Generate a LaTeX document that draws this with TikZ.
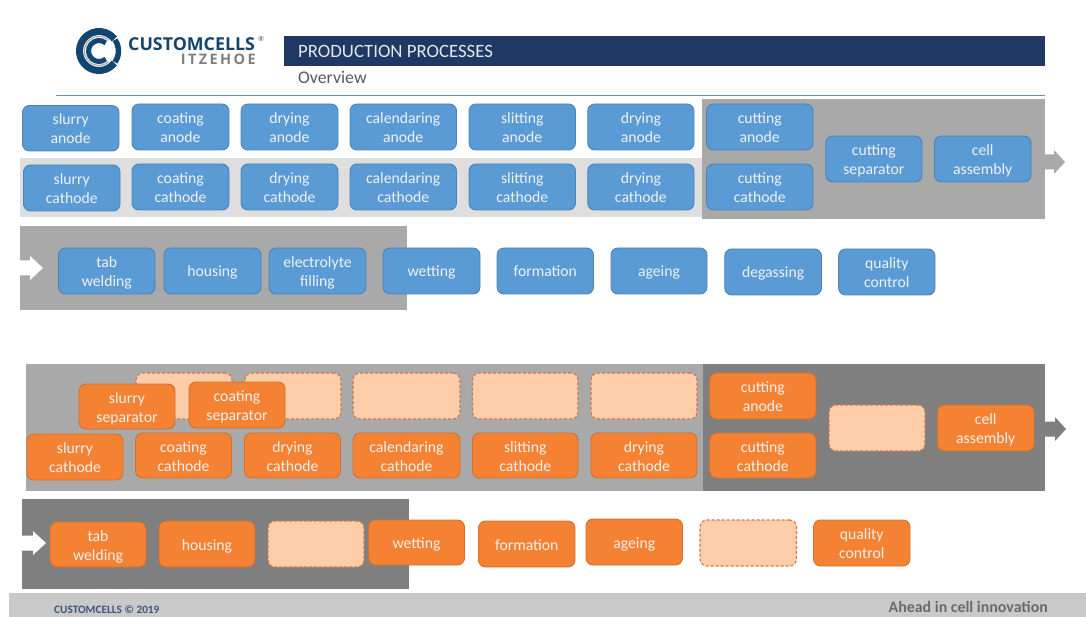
\documentclass[tikz,border=0pt]{standalone}
\usepackage{fontspec}
\setmainfont{Carlito}
\newfontfamily\logofont{Open Sans}
\definecolor{blueF}{HTML}{5B9BD5}
\definecolor{blueD}{HTML}{4C84B8}
\definecolor{orangeF}{HTML}{F58233}
\definecolor{orangeD}{HTML}{D0712F}
\definecolor{peachF}{HTML}{FDCDAA}
\definecolor{peachD}{HTML}{C9794A}
\definecolor{navy}{HTML}{1F3864}
\definecolor{logoblue}{HTML}{12466F}
\definecolor{greyA}{HTML}{A9A9A9}
\definecolor{greyB}{HTML}{7F7F7F}
\definecolor{greyC}{HTML}{DEDEDE}
\definecolor{greyF}{HTML}{C9C9C9}
\definecolor{rulecol}{HTML}{6A8DB5}
\tikzset{
  procbox/.style={rounded corners=7pt,inner sep=0pt,line width=0.9pt},
  proctext/.style={inner sep=0pt,align=center,text=white!94!black,
    font=\fontsize{15.7}{19}\selectfont,yshift=-2.2pt},
  bluebox/.style={procbox,fill=blueF,draw=blueD},
  orangebox/.style={procbox,fill=orangeF,draw=orangeD},
  emptybox/.style={procbox,fill=peachF,draw=peachD,line width=1.1pt,dash pattern=on 3pt off 2pt},
}
\newcommand{\bx}[7]{\node[#6,minimum width={(#4-#2)*1pt},minimum height={(#5-#3)*1pt},
  label={[proctext]center:{\strut #7\strut}}]
  (#1) at ({(#2+#4)/2},{(#3+#5)/2}) {};}
\newcommand{\ex}[5]{\node[emptybox,minimum width={(#4-#2)*1pt},minimum height={(#5-#3)*1pt}]
  (#1) at ({(#2+#4)/2},{(#3+#5)/2}) {};}
\newcommand{\blockarrow}[5]{% x0, xend, ymid, colour, head length
  \fill[#4] (#1,#3-7.5) -- (#2-#5,#3-7.5) -- (#2-#5,#3-12) -- (#2,#3) -- (#2-#5,#3+12) -- (#2-#5,#3+7.5) -- (#1,#3+7.5) -- cycle;}
\begin{document}
\begin{tikzpicture}[x=1pt,y=-1pt]
\useasboundingbox (0,0) rectangle (1086,617);
% logo
\begin{scope}[shift={(99,51)}]
  \draw[logoblue,line width=7pt] (38:19.5) arc[start angle=-38,end angle=-322,radius=19.5,y radius=-19.5];
  \draw[logoblue,line width=5.5pt] (35:19.5) arc[start angle=-35,end angle=35,radius=19.5,y radius=-19.5];
  \draw[greyA,line width=1.2pt] (-48:14.5) arc[start angle=48,end angle=312,radius=14.5,y radius=-14.5];
  \draw[logoblue,line width=5pt] (-50:10.5) arc[start angle=50,end angle=310,radius=10.5,y radius=-10.5];
\end{scope}
\node[inner sep=0pt,anchor=west,text=logoblue,font=\logofont\bfseries\fontsize{17.8}{18}\selectfont,text height=12.8pt,text depth=0pt] (brand) at (128,44.5) {CUSTOMCELLS};
\node[inner sep=0pt,anchor=west,text=greyB,font=\logofont\bfseries\fontsize{7}{7}\selectfont] (reg) at (258,39) {\textregistered};
\node[inner sep=0pt,anchor=east,text=greyB,font=\logofont\bfseries\fontsize{14.5}{14.5}\selectfont,text height=10.4pt,text depth=0pt] (site) at (256,59.8) {I\,T\,Z\,E\,H\,O\,E};
% header
\fill[navy] (284,36.5) rectangle (1045,66);
\node[inner sep=0pt,anchor=west,text=white!88!navy,font=\fontsize{18.8}{19}\selectfont] (title) at (298,51.5) {PRODUCTION PROCESSES};
\node[inner sep=0pt,anchor=west,text=black!65,font=\fontsize{17.8}{18}\selectfont] (sub) at (298,77) {Overview};
\draw[color=rulecol,line width=0.9pt] (56,95.5) -- (1045,95.5);
% upper bands
\fill[greyC] (20,158) rectangle (702,217.5);
\fill[greyA] (702,99.5) rectangle (1045,219);
\fill[greyA] (20,226) rectangle (407,310);
\blockarrow{1045}{1065}{162}{greyA}{11}
\blockarrow{20}{43}{268}{white}{13}
% upper boxes
\bx{a1}{22.5}{105.5}{119}{151}{bluebox}{slurry\\anode}
\bx{a2}{132}{104}{229}{150}{bluebox}{coating\\anode}
\bx{a3}{241}{104}{338}{150}{bluebox}{drying\\anode}
\bx{a4}{350}{104}{456.5}{150}{bluebox}{calendaring\\anode}
\bx{a5}{469}{104}{575.5}{150}{bluebox}{slitting\\anode}
\bx{a6}{587.7}{104}{694}{150}{bluebox}{drying\\anode}
\bx{a7}{706.5}{104}{813}{150}{bluebox}{cutting\\anode}
\bx{c1}{23.5}{165}{120}{211}{bluebox}{slurry\\cathode}
\bx{c2}{132}{164}{229}{210}{bluebox}{coating\\cathode}
\bx{c3}{241}{164}{338}{210}{bluebox}{drying\\cathode}
\bx{c4}{350}{164}{456.5}{210}{bluebox}{calendaring\\cathode}
\bx{c5}{469}{164}{575.5}{210}{bluebox}{slitting\\cathode}
\bx{c6}{587.7}{164}{694}{210}{bluebox}{drying\\cathode}
\bx{c7}{706.5}{164}{813}{210}{bluebox}{cutting\\cathode}
\bx{s1}{825.7}{136}{922}{182}{bluebox}{cutting\\separator}
\bx{s2}{934.4}{136}{1031}{182}{bluebox}{cell\\assembly}
\bx{t1}{58.5}{248}{155}{294}{bluebox}{tab\\welding}
\bx{t2}{164}{248}{261}{294}{bluebox}{housing}
\bx{t3}{269}{248}{366}{294}{bluebox}{electrolyte\\filling}
\bx{t4}{383}{248}{480}{294}{bluebox}{wetting}
\bx{t5}{497}{248}{593.5}{294}{bluebox}{formation}
\bx{t6}{611}{248}{707}{294}{bluebox}{ageing}
\bx{t7}{724.7}{249}{821.5}{295}{bluebox}{degassing}
\bx{t8}{838.6}{249}{935}{295}{bluebox}{quality\\control}
% lower bands
\fill[greyA] (26,363.5) rectangle (702.5,490.5);
\fill[greyB] (702.5,363.5) rectangle (1045,490.5);
\fill[greyB] (22,499) rectangle (409,589);
\blockarrow{1045}{1066}{429}{greyB}{11}
\blockarrow{22}{46}{543}{white}{13}
% lower boxes
\ex{e1}{136}{373}{232}{419}
\ex{e2}{245}{373}{341}{419}
\ex{e3}{353}{373}{460}{419}
\ex{e4}{472.5}{373}{578}{419}
\ex{e5}{591}{373}{697}{419}
\bx{p1}{79}{384}{175}{429}{orangebox}{slurry\\separator}
\bx{p2}{189}{382}{285}{428}{orangebox}{coating\\separator}
\bx{d1}{27}{434}{123}{480}{orangebox}{slurry\\cathode}
\bx{d2}{135.5}{433}{231.5}{478}{orangebox}{coating\\cathode}
\bx{d3}{244.5}{433}{340.5}{478}{orangebox}{drying\\cathode}
\bx{d4}{353}{433}{460}{478}{orangebox}{calendaring\\cathode}
\bx{d5}{472.5}{433}{578}{478}{orangebox}{slitting\\cathode}
\bx{d6}{591}{433}{697}{478}{orangebox}{drying\\cathode}
\bx{d7}{709.7}{373}{816}{419}{orangebox}{cutting\\anode}
\bx{d8}{709.7}{433}{816}{478}{orangebox}{cutting\\cathode}
\ex{e6}{829}{405}{925}{451}
\bx{d9}{937.5}{405}{1034}{451}{orangebox}{cell\\assembly}
\bx{w1}{50}{522}{146}{567}{orangebox}{tab\\welding}
\bx{w2}{159}{521}{255}{567}{orangebox}{housing}
\ex{e7}{268}{521}{364}{567}
\bx{w3}{368.5}{520}{464.5}{565}{orangebox}{wetting}
\bx{w4}{478.5}{521}{575}{567}{orangebox}{formation}
\bx{w5}{586}{519}{682.5}{565}{orangebox}{ageing}
\ex{e8}{700}{520}{796.5}{566}
\bx{w6}{813.5}{520}{910}{566}{orangebox}{quality\\control}
% footer
\fill[greyF] (9,593) rectangle (1086,617);
\node[inner sep=0pt,anchor=west,text=navy!85,font=\bfseries\fontsize{11.3}{11.3}\selectfont] (copy) at (54,610) {CUSTOMCELLS © 2019};
\node[inner sep=0pt,anchor=east,text=black!58,font=\bfseries\fontsize{15.9}{16}\selectfont] (slogan) at (1048,607) {Ahead in cell innovation};
\end{tikzpicture}
\end{document}
